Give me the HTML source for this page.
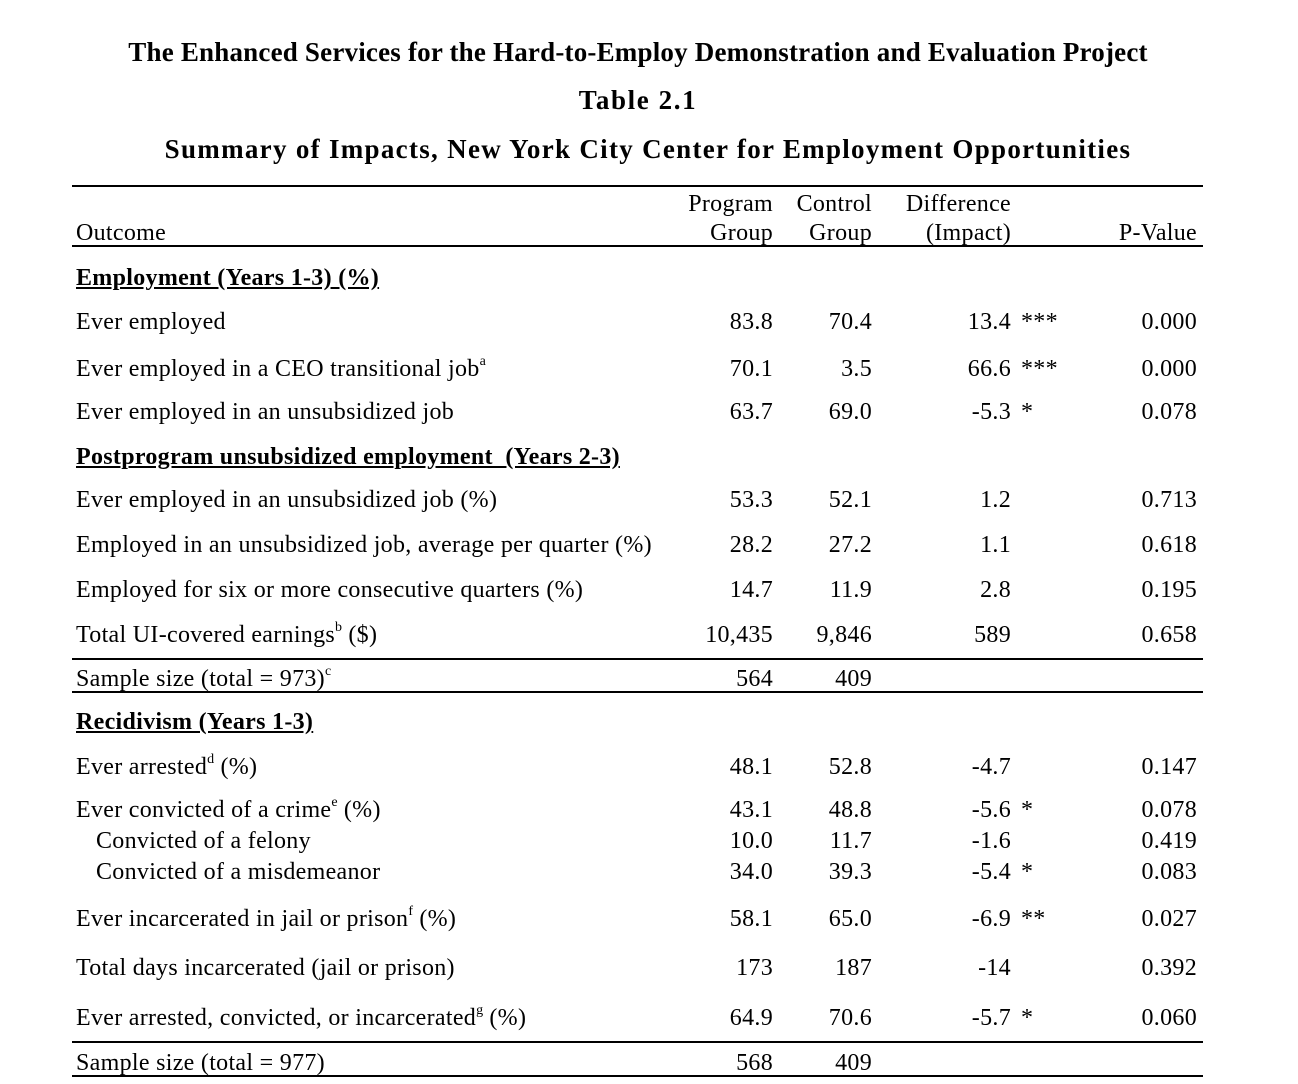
<!DOCTYPE html>
<html><head><meta charset="utf-8">
<style>
html,body{margin:0;padding:0;background:#fff;}
body{width:1298px;height:1084px;position:relative;overflow:hidden;font-family:"Liberation Serif",serif;color:#000;}
.t{position:absolute;font-size:24px;line-height:28px;white-space:nowrap;letter-spacing:0.3px;}
.r{text-align:right;}
.h{font-weight:bold;text-decoration:underline;}
.title{position:absolute;left:0;width:1276px;text-align:center;font-weight:bold;font-size:27px;line-height:32px;}
.line{position:absolute;left:72px;width:1131px;background:#000;}
sup{font-size:14px;vertical-align:top;position:relative;top:-7px;letter-spacing:0;}
</style></head>
<body>
<div class="title" style="top:36px;letter-spacing:0.2px">The Enhanced Services for the Hard-to-Employ Demonstration and Evaluation Project</div>
<div class="title" style="top:84px;letter-spacing:1.6px">Table 2.1</div>
<div class="title" style="top:133px;left:10px;letter-spacing:1.3px">Summary of Impacts, New York City Center for Employment Opportunities</div>

<div class="line" style="top:185px;height:2px"></div>
<div class="line" style="top:245px;height:2px"></div>
<div class="line" style="top:658px;height:2px"></div>
<div class="line" style="top:691px;height:2px"></div>
<div class="line" style="top:1041px;height:2px"></div>
<div class="line" style="top:1075px;height:2px"></div>

<div id="rows"></div>
<script>
const rows = [
  [277,'Employment (Years 1-3) (%)','','','','','','h'],
  [321,'Ever employed','83.8','70.4','13.4','***','0.000',''],
  [368,'Ever employed in a CEO transitional job<sup>a</sup>','70.1','3.5','66.6','***','0.000',''],
  [411,'Ever employed in an unsubsidized job','63.7','69.0','-5.3','*','0.078',''],
  [456,'Postprogram unsubsidized employment&nbsp; (Years 2-3)','','','','','','h'],
  [499,'Ever employed in an unsubsidized job (%)','53.3','52.1','1.2','','0.713',''],
  [544,'Employed in an unsubsidized job, average per quarter (%)','28.2','27.2','1.1','','0.618',''],
  [589,'Employed for six or more consecutive quarters (%)','14.7','11.9','2.8','','0.195',''],
  [634,'Total UI-covered earnings<sup>b</sup> ($)','10,435','9,846','589','','0.658',''],
  [678,'Sample size (total = 973)<sup>c</sup>','564','409','','','',''],
  [721,'Recidivism (Years 1-3)','','','','','','h'],
  [766,'Ever arrested<sup>d</sup> (%)','48.1','52.8','-4.7','','0.147',''],
  [809,'Ever convicted of a crime<sup>e</sup> (%)','43.1','48.8','-5.6','*','0.078',''],
  [840,'Convicted of a felony','10.0','11.7','-1.6','','0.419','i'],
  [871,'Convicted of a misdemeanor','34.0','39.3','-5.4','*','0.083','i'],
  [918,'Ever incarcerated in jail or prison<sup>f</sup> (%)','58.1','65.0','-6.9','**','0.027',''],
  [967,'Total days incarcerated (jail or prison)','173','187','-14','','0.392',''],
  [1017,'Ever arrested, convicted, or incarcerated<sup>g</sup> (%)','64.9','70.6','-5.7','*','0.060',''],
  [1062,'Sample size (total = 977)','568','409','','','','']
];
const host=document.getElementById('rows');
function cell(html,x,y,right,cls,name){
  const d=document.createElement('div');
  d.className='t'+(right?' r':'')+(cls?' '+cls:'');
  d.style.top=(y-13)+'px';
  if(right){d.style.right=(1298-x)+'px';}else{d.style.left=x+'px';}
  d.innerHTML=html;
  
  
  host.appendChild(d);
}
cell('Outcome',76,232,false,'','header-outcome');
cell('Program',773,203,true,'','header-program-1');
cell('Group',773,232,true,'','header-program-2');
cell('Control',872,203,true,'','header-control-1');
cell('Group',872,232,true,'','header-control-2');
cell('Difference',1011,203,true,'','header-difference-1');
cell('(Impact)',1011,232,true,'','header-difference-2');
cell('P-Value',1197,232,true,'','header-pvalue');
rows.forEach((r,i)=>{
  const [y,l,p,c,d,s,pv,t]=r;
  cell(l,t==='i'?96:76,y,false,t==='h'?'h':'','row-label-'+i);
  if(p) cell(p,773,y,true,'','program-value-'+i);
  if(c) cell(c,872,y,true,'','control-value-'+i);
  if(d) cell(d,1011,y,true,'','difference-value-'+i);
  if(s) cell(s,1021,y,false,'','significance-stars-'+i);
  if(pv) cell(pv,1197,y,true,'','p-value-'+i);
});
</script>
</body></html>
